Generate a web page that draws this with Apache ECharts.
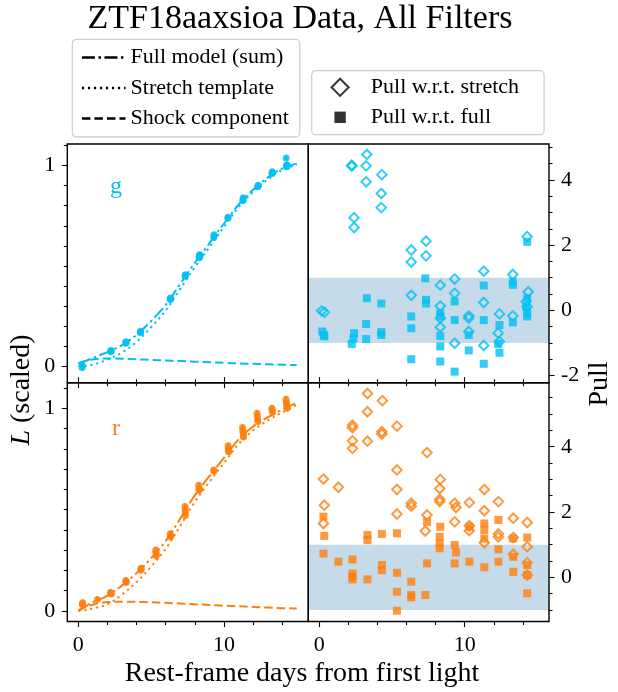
<!DOCTYPE html>
<html><head><meta charset="utf-8">
<script src="https://cdn.jsdelivr.net/npm/echarts@6/dist/echarts.min.js"></script>
<style>html,body{margin:0;padding:0;background:#fff}#c{width:618px;height:692px}</style>
</head><body><div id="c"></div>
<script>
// ---------- data ----------
const xMajorTicks = [0, 10];
const xMinorTicks = [2, 4, 6, 8, 12, 14];
const lcMajorTicks = [0, 1];
const lcMinorTicks = [0.1, 0.2, 0.3, 0.4, 0.5, 0.6, 0.7, 0.8, 0.9, 1.1];
const pullTopMajor = [-2, 0, 2, 4];
const pullTopMinor = [-1.5, -1, -0.5, 0.5, 1, 1.5, 2.5, 3, 3.5, 4.5, 5];
const pullBotMajor = [0, 2, 4];
const pullBotMinor = [-1, -0.5, 0.5, 1, 1.5, 2.5, 3, 3.5, 4.5, 5, 5.5];
const pullBand = [-1, 1];

const modelT   = [0, 0.5, 1, 1.5, 2, 3, 4, 5, 6, 7, 8, 9, 10, 11, 12, 13, 14, 15];
const gFull    = [0.012,0.026,0.040,0.055,0.070,0.105,0.155,0.225,0.305,0.410,0.515,0.612,0.710,0.805,0.880,0.940,0.985,1.010];
const gStretch = [0.000,0.000,0.007,0.018,0.032,0.068,0.121,0.194,0.277,0.385,0.493,0.593,0.694,0.792,0.869,0.931,0.978,1.005];
const gShock   = [0.012,0.026,0.033,0.037,0.038,0.037,0.034,0.031,0.028,0.025,0.022,0.019,0.016,0.013,0.011,0.009,0.007,0.005];
const rFull    = [0.003,0.022,0.042,0.057,0.075,0.125,0.186,0.260,0.345,0.455,0.570,0.665,0.755,0.845,0.910,0.955,0.993,1.028];
const rStretch = [0.000,0.003,0.012,0.020,0.032,0.080,0.142,0.218,0.306,0.419,0.538,0.636,0.730,0.823,0.891,0.939,0.980,1.017];
const rShock   = [0.000,0.018,0.030,0.038,0.043,0.045,0.044,0.042,0.039,0.036,0.032,0.029,0.025,0.022,0.019,0.016,0.013,0.011];

// light-curve observations [t, L, err]
const gObs = [
 [0.26,-0.008,0.012],[0.28,0.004,0.012],
 [2.22,0.072,0.012],[2.24,0.078,0.012],[2.26,0.075,0.012],
 [3.26,0.114,0.012],[3.27,0.121,0.012],[3.29,0.118,0.012],
 [4.25,0.168,0.012],[4.27,0.174,0.012],[4.28,0.170,0.012],
 [6.31,0.332,0.012],[6.33,0.340,0.012],[6.34,0.336,0.012],
 [7.33,0.448,0.012],[7.35,0.456,0.012],[7.36,0.452,0.012],
 [8.30,0.540,0.012],[8.31,0.548,0.012],[8.33,0.556,0.012],[8.34,0.545,0.012],[8.35,0.552,0.012],
 [9.30,0.642,0.012],[9.32,0.655,0.012],[9.33,0.648,0.012],
 [10.27,0.738,0.012],[10.29,0.742,0.012],
 [11.30,0.825,0.012],[11.32,0.840,0.012],[11.33,0.830,0.012],
 [12.33,0.895,0.012],[12.35,0.902,0.012],[12.36,0.898,0.012],
 [13.30,0.960,0.012],[13.32,0.970,0.012],[13.33,0.965,0.012],
 [14.28,1.038,0.012],[14.30,0.995,0.012],[14.31,1.000,0.012],[14.33,1.005,0.012],[14.34,0.998,0.012]
];
const rObs = [
 [0.27,0.035,0.015],[0.29,0.030,0.015],[0.30,0.040,0.015],
 [1.31,0.056,0.015],
 [2.21,0.090,0.015],[2.23,0.085,0.015],[2.24,0.088,0.015],[2.26,0.083,0.015],
 [3.26,0.150,0.015],[3.28,0.140,0.015],[3.29,0.145,0.015],
 [4.29,0.200,0.015],[4.31,0.210,0.015],[4.32,0.205,0.015],
 [5.32,0.300,0.015],[5.33,0.290,0.015],[5.35,0.280,0.015],[5.36,0.270,0.015],
 [6.31,0.380,0.015],[6.33,0.370,0.015],[6.34,0.365,0.015],
 [7.32,0.515,0.015],[7.34,0.500,0.015],[7.35,0.485,0.015],[7.36,0.470,0.015],
 [8.27,0.620,0.015],[8.29,0.605,0.015],[8.30,0.595,0.015],[8.31,0.600,0.015],
 [9.30,0.695,0.015],[9.32,0.690,0.015],
 [10.29,0.815,0.015],[10.30,0.800,0.015],[10.32,0.790,0.015],[10.33,0.785,0.015],
 [11.28,0.905,0.015],[11.30,0.890,0.015],[11.32,0.875,0.015],[11.34,0.865,0.015],[11.35,0.858,0.015],
 [12.28,0.975,0.015],[12.30,0.960,0.015],[12.32,0.945,0.015],[12.34,0.935,0.015],
 [13.30,1.000,0.015],[13.32,0.990,0.015],[13.34,0.980,0.015],
 [14.27,1.045,0.015],[14.29,1.030,0.015],[14.31,1.020,0.015],[14.33,1.010,0.015],[14.35,1.000,0.015]
];

// pulls [t, pull]
const gPullStretch = [
 [0.16,-0.02],[0.35,-0.06],
 [2.23,4.45],[2.23,4.42],[2.39,2.84],[2.39,2.54],
 [3.27,4.78],[3.22,4.43],[3.22,3.94],
 [4.30,4.16],[4.26,3.58],[4.26,3.15],
 [6.32,1.85],[6.32,1.48],[6.32,0.46],
 [7.34,2.12],[7.34,1.67],
 [8.32,0.77],[8.32,0.13],[8.32,-0.24],[8.32,-0.52],
 [9.31,0.96],[9.31,0.52],[9.31,-1.01],
 [10.28,-0.17],[10.28,-0.24],[10.28,-0.65],
 [11.31,1.20],[11.31,0.24],[11.31,-1.08],
 [12.39,-0.11],[12.30,-0.70],[12.39,-0.96],
 [13.31,1.10],[13.31,-0.17],
 [14.30,2.26],[14.37,0.57],[14.23,0.27],[14.30,0.11]
];
const gPullFull = [
 [0.20,-0.65],[0.30,-0.75],[0.35,-0.80],
 [2.39,-0.70],[2.35,-0.86],[2.23,-1.03],
 [3.27,0.37],[3.22,-0.42],[3.22,-0.88],
 [4.26,0.21],[4.26,-0.67],[4.26,-0.76],
 [6.32,-0.19],[6.32,-0.55],[6.32,-1.50],
 [7.29,0.98],[7.34,0.32],[7.34,0.21],
 [8.32,-0.09],[8.32,-0.19],[8.32,-0.79],[8.32,-1.11],[8.32,-1.57],
 [9.31,0.27],[9.31,-0.30],[9.31,-1.88],
 [10.28,-0.76],[10.28,-1.23],
 [11.31,0.76],[11.31,-0.30],[11.31,-1.64],
 [12.39,-0.45],[12.30,-1.03],[12.39,-1.30],
 [13.31,0.88],[13.31,0.78],[13.31,-0.37],
 [14.30,2.10],[14.30,0.37],[14.23,0.11],[14.30,-0.09],[14.30,-0.19]
];
const rPullStretch = [
 [0.28,3.01],[0.34,2.21],[0.28,1.65],
 [1.31,2.76],
 [2.28,4.66],[2.28,4.58],[2.28,4.18],[2.28,3.95],
 [3.31,5.63],[3.31,5.07],[3.31,4.17],
 [4.34,5.41],[4.30,4.46],[4.30,4.39],
 [5.34,4.63],[5.34,3.29],[5.34,2.69],[5.34,1.94],
 [6.32,2.27],[6.32,2.18],
 [7.41,3.82],[7.41,1.91],[7.29,1.42],
 [8.32,3.00],[8.28,2.72],[8.28,2.39],[8.28,2.32],
 [9.31,2.27],[9.40,2.14],[9.31,1.70],
 [10.32,2.29],[10.32,1.58],[10.32,1.43],
 [11.35,2.69],[11.35,2.04],[11.35,1.06],
 [12.32,2.32],[12.32,1.33],[12.32,1.24],
 [13.34,1.81],[13.34,1.22],[13.34,0.71],
 [14.30,1.68],[14.30,0.94],[14.30,0.45],[14.30,0.07]
];
const rPullFull = [
 [0.28,1.86],[0.34,1.27],[0.28,0.73],
 [1.31,0.48],
 [2.28,0.55],[2.28,0.12],[2.28,0.02],[2.28,-0.06],
 [3.31,1.30],[3.31,1.14],[3.31,-0.06],
 [4.30,1.33],[4.30,0.38],[4.30,0.22],
 [5.34,1.35],[5.34,0.14],[5.34,-0.44],[5.34,-1.02],
 [6.32,-0.13],[6.32,-0.54],[6.32,-0.61],
 [7.41,1.70],[7.41,0.43],[7.29,-0.54],
 [8.32,1.55],[8.28,1.24],[8.28,1.04],[8.28,0.89],
 [9.31,0.99],[9.40,0.76],[9.31,0.43],
 [10.32,1.55],[10.32,0.48],
 [11.35,1.65],[11.35,1.45],[11.35,1.19],[11.35,0.31],
 [12.32,1.76],[12.32,0.86],[12.32,0.48],
 [13.34,1.19],[13.34,0.63],[13.34,0.17],
 [14.30,1.22],[14.30,0.38],[14.30,0.07],[14.30,-0.49]
];

// ---------- style ----------
const FONT = '"Liberation Serif", "DejaVu Serif", serif';
const G = '#00bff5', R = '#ff7f0e', BAND = '#c6dbea';
const DASHDOT = [13, 3.5, 2.5, 3.5], DOTTED = [2.2, 3.8], DASHED = [8.5, 4];
const X_MIN = -0.76, X_MAX = 15.8;
const DIAMOND_ICON = 'path://M0,0M20,20M10,1L19,10L10,19L1,10Z';
const SQUARE_ICON = 'path://M0,0M20,20M4,4L16,4L16,16L4,16Z';

const grids = [
  {left: 67.3, top: 144,   width: 241,   height: 238.7},
  {left: 308.3, top: 144,  width: 240.7, height: 238.7},
  {left: 67.3, top: 382.7, width: 241,   height: 238.8},
  {left: 308.3, top: 382.7, width: 240.7, height: 238.8}
].map(g => Object.assign({show: true, borderColor: '#000', borderWidth: 1.4, backgroundColor: 'transparent', z: 10}, g));

function xAx(grid, ticks, major, opts) {
  opts = opts || {};
  return {
    type: 'value', gridIndex: grid, min: X_MIN, max: X_MAX, position: opts.pos || 'bottom',
    axisLine: {show: false, onZero: false}, splitLine: {show: false},
    axisTick: {show: true, inside: !!opts.inside, customValues: ticks, length: major ? 5.5 : 3.5,
               lineStyle: {color: '#000', width: 1.1}},
    axisLabel: opts.labels ? {show: true, customValues: ticks, margin: 13, fontFamily: FONT, fontSize: 22, color: '#000'}
                           : {show: false}
  };
}
function yAx(grid, ticks, major, min, max, pos, labels) {
  return {
    type: 'value', gridIndex: grid, min: min, max: max, position: pos,
    axisLine: {show: false, onZero: false}, splitLine: {show: false},
    axisTick: {show: true, customValues: ticks, length: major ? 5.5 : 3.5, lineStyle: {color: '#000', width: 1.1}},
    axisLabel: labels ? {show: true, customValues: ticks, margin: 12, fontFamily: FONT, fontSize: 22, color: '#000'}
                      : {show: false}
  };
}

const xAxes = [
  xAx(0, xMajorTicks, true, {inside: true}), xAx(0, xMinorTicks, false, {inside: true}),
  xAx(1, xMajorTicks, true, {inside: true}), xAx(1, xMinorTicks, false, {inside: true}),
  xAx(2, xMajorTicks, true, {labels: true}), xAx(2, xMinorTicks, false),
  xAx(2, xMajorTicks, true, {pos: 'top', inside: true}), xAx(2, xMinorTicks, false, {pos: 'top', inside: true}),
  xAx(3, xMajorTicks, true, {labels: true}), xAx(3, xMinorTicks, false),
  xAx(3, xMajorTicks, true, {pos: 'top', inside: true}), xAx(3, xMinorTicks, false, {pos: 'top', inside: true})
];
const yAxes = [
  yAx(0, lcMajorTicks, true, -0.083, 1.108, 'left', true), yAx(0, lcMinorTicks, false, -0.083, 1.108, 'left', false),
  yAx(1, pullTopMajor, true, -2.22, 5.10, 'right', true), yAx(1, pullTopMinor, false, -2.22, 5.10, 'right', false),
  yAx(2, lcMajorTicks, true, -0.053, 1.1265, 'left', true), yAx(2, lcMinorTicks, false, -0.053, 1.1265, 'left', false),
  yAx(3, pullBotMajor, true, -1.35, 5.96, 'right', true), yAx(3, pullBotMinor, false, -1.35, 5.96, 'right', false)
];
const AX = [[0, 0], [2, 2], [4, 4], [8, 6]]; // [xAxisIndex, yAxisIndex] per grid

function zip(t, v) { return t.map((x, i) => [x, v[i]]); }
function lineS(panel, name, vals, color, dash) {
  return {type: 'line', name: name, xAxisIndex: AX[panel][0], yAxisIndex: AX[panel][1],
    data: zip(modelT, vals), showSymbol: false, symbol: 'none', smooth: 0.35, z: 3,
    lineStyle: {color: color, width: 2, type: dash}, itemStyle: {color: color}, silent: true};
}
function obsS(panel, data, color) {
  return [
    {type: 'custom', xAxisIndex: AX[panel][0], yAxisIndex: AX[panel][1], data: data, z: 4, silent: true,
     encode: {x: 0, y: 1},
     renderItem: function (params, api) {
       const x = api.value(0), y = api.value(1), e = api.value(2);
       const a = api.coord([x, y - e]), b = api.coord([x, y + e]);
       return {type: 'line', shape: {x1: a[0], y1: a[1], x2: b[0], y2: b[1]}, style: {stroke: color, lineWidth: 2}};
     }},
    {type: 'scatter', xAxisIndex: AX[panel][0], yAxisIndex: AX[panel][1], data: data.map(d => [d[0], d[1]]),
     symbol: 'circle', symbolSize: 7, itemStyle: {color: color}, z: 5, silent: true}
  ];
}
function bandS(panel) {
  return {type: 'custom', xAxisIndex: AX[panel][0], yAxisIndex: AX[panel][1], data: [pullBand], z: 1, silent: true,
    renderItem: function (params, api) {
      const cs = params.coordSys;
      const top = api.coord([0, api.value(1)])[1], bot = api.coord([0, api.value(0)])[1];
      return {type: 'rect', shape: {x: cs.x, y: top, width: cs.width, height: bot - top}, style: {fill: BAND}};
    }};
}
function pullS(panel, name, data, color, hollow) {
  return {type: 'scatter', name: name, xAxisIndex: AX[panel][0], yAxisIndex: AX[panel][1], data: data,
    symbol: hollow ? 'diamond' : 'rect', symbolSize: hollow ? 9.5 : 8, z: hollow ? 6 : 5, silent: true,
    itemStyle: hollow ? {color: 'rgba(255,255,255,0)', borderColor: color, borderWidth: 2} : {color: color}};
}

const series = [
  bandS(1), bandS(3),
  lineS(0, 'Full model (sum)', gFull, G, DASHDOT),
  lineS(0, 'Stretch template', gStretch, G, DOTTED),
  lineS(0, 'Shock component', gShock, G, DASHED),
  lineS(2, 'Full model (sum)', rFull, R, DASHDOT),
  lineS(2, 'Stretch template', rStretch, R, DOTTED),
  lineS(2, 'Shock component', rShock, R, DASHED),
  ...obsS(0, gObs, G), ...obsS(2, rObs, R),
  pullS(1, 'Pull w.r.t. full', gPullFull, G, false),
  pullS(1, 'Pull w.r.t. stretch', gPullStretch, G, true),
  pullS(3, 'Pull w.r.t. full', rPullFull, R, false),
  pullS(3, 'Pull w.r.t. stretch', rPullStretch, R, true)
];

const HIDE_SYM = {color: 'rgba(0,0,0,0)', borderColor: 'rgba(0,0,0,0)', borderWidth: 0};
const legendBase = {orient: 'vertical', selectedMode: false, backgroundColor: '#fff', borderColor: '#cccccc',
  borderWidth: 1.2, borderRadius: 4, textStyle: {fontFamily: FONT, fontSize: 22, color: '#000'}};
const legends = [
  Object.assign({}, legendBase, {
    left: 72.3, top: 39.3, itemWidth: 43.6, itemHeight: 14, itemGap: 8.5, padding: [7.2, 11, 7.4, 8.4],
    data: [
      {name: 'Full model (sum)', lineStyle: {color: '#000', width: 2.5, type: DASHDOT}, itemStyle: HIDE_SYM},
      {name: 'Stretch template', lineStyle: {color: '#000', width: 2.5, type: DOTTED}, itemStyle: HIDE_SYM},
      {name: 'Shock component', lineStyle: {color: '#000', width: 2.5, type: DASHED}, itemStyle: HIDE_SYM}
    ]}),
  Object.assign({}, legendBase, {
    left: 311.7, top: 70.7, itemWidth: 51.4, itemHeight: 19, itemGap: 8, padding: [5.6, 25, 6.4, 17.9],
    data: [
      {name: 'Pull w.r.t. stretch', icon: DIAMOND_ICON, itemStyle: {color: 'rgba(255,255,255,0)', borderColor: '#000', borderWidth: 2}},
      {name: 'Pull w.r.t. full', icon: SQUARE_ICON, itemStyle: {color: '#000', borderWidth: 0}}
    ]})
];

const txt = (x, y, text, size, color, extra) => Object.assign({type: 'text', x: x, y: y, silent: true,
  style: {text: text, fontFamily: FONT, fontSize: size, fill: color || '#000', align: 'center', verticalAlign: 'middle'}}, extra || {});

const graphic = [
  txt(300, 19.5, 'ZTF18aaxsioa Data, All Filters', 34),
  txt(302, 674, 'Rest-frame days from first light', 28),
  {type: 'text', x: 22, y: 390, rotation: Math.PI / 2, silent: true,
   style: {text: '{it|L} (scaled)', fontFamily: FONT, fontSize: 28, fill: '#000', align: 'center', verticalAlign: 'middle',
           rich: {it: {fontStyle: 'italic', fontFamily: FONT, fontSize: 28, fill: '#000'}}}},
  {type: 'text', x: 600, y: 384, rotation: Math.PI / 2, silent: true,
   style: {text: 'Pull', fontFamily: FONT, fontSize: 28, fill: '#000', align: 'center', verticalAlign: 'middle'}},
  txt(116, 187, 'g', 24, G),
  txt(116, 428.7, 'r', 24, R)
];

const chart = echarts.init(document.getElementById('c'), null, {renderer: 'canvas'});
chart.setOption({
  animation: false,
  backgroundColor: '#fff',
  grid: grids,
  xAxis: xAxes,
  yAxis: yAxes,
  legend: legends,
  series: series,
  graphic: graphic
});
</script></body></html>
